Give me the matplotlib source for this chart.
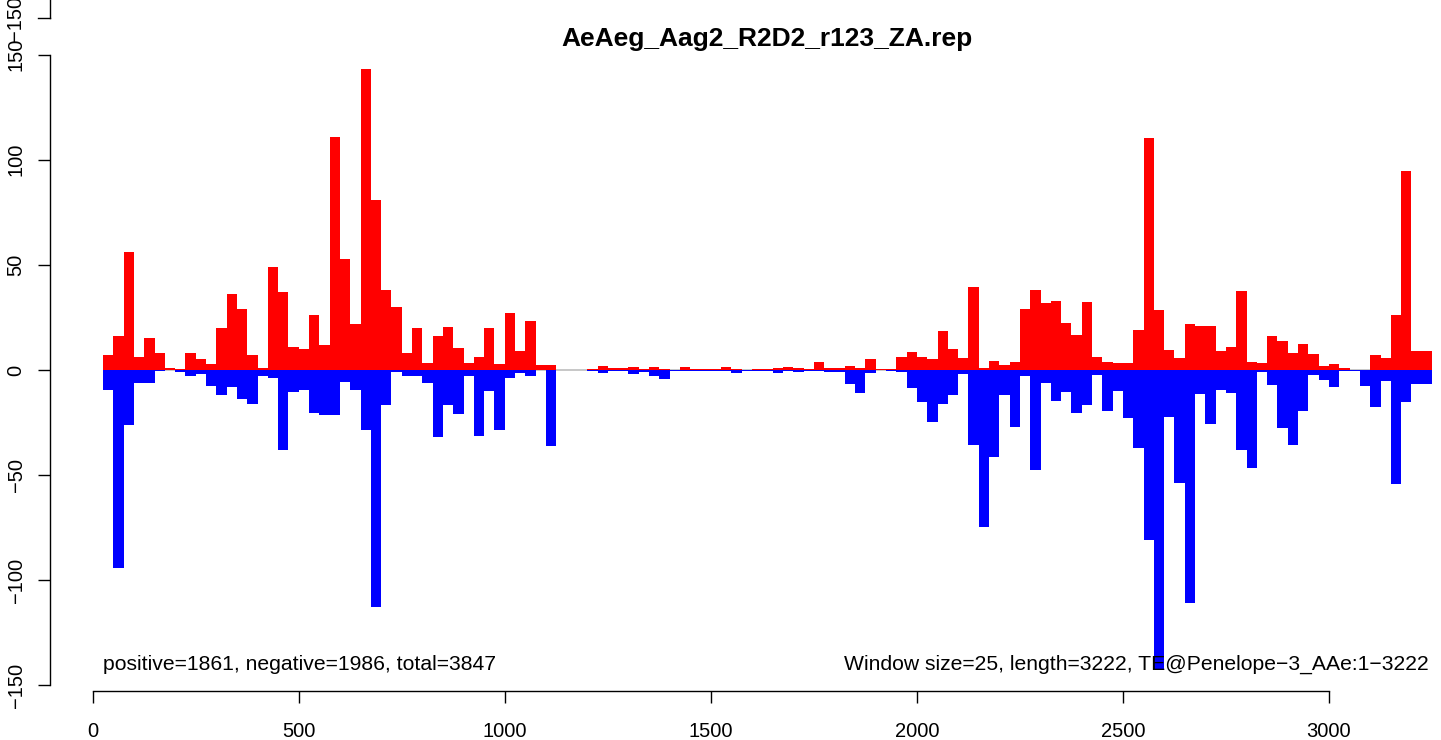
import matplotlib
matplotlib.use("Agg")
import matplotlib.pyplot as plt
from matplotlib.lines import Line2D
import numpy as np

plt.rcParams['font.family'] = ['Liberation Sans', 'DejaVu Sans']

window = 25
length = 3222
title = "AeAeg_Aag2_R2D2_r123_ZA.rep"
left_note = "positive=1861, negative=1986, total=3847"
right_note = "Window size=25, length=3222, TE@Penelope\u22123_AAe:1\u22123222"

positive = [7, 16, 56, 6, 15, 8, 1, 0.5, 8, 5, 3, 20, 36, 29, 7, 1, 49, 37, 11, 10,
            26, 12, 111, 53, 22, 143, 81, 38, 30, 8, 20, 3.5, 16, 20.5, 10.5, 3.5, 6, 20, 3, 27,
            9, 23.5, 2.5, 2.5, 0, 0, 0, 0.5, 2, 1, 1, 1.5, 0.5, 1.5, 0.5, 0, 1.5, 0.5, 0.5, 0.5,
            1.5, 0.5, 0, 0.5, 0.5, 1, 1.5, 1, 0.3, 4, 1, 1, 2, 1, 5, 0.3, 0.3, 6, 8.5, 6,
            5, 18.5, 10, 5.5, 39.5, 1, 4.5, 2.5, 4, 29, 38, 32, 33, 22.5, 16.5, 32.5, 6, 4, 3.5, 3.5,
            19, 110.5, 28.5, 9.5, 5.5, 22, 21, 21, 9, 11, 37.5, 4, 3.5, 16, 14, 8, 12.5, 7.5, 2, 3,
            1, 0, 0, 7, 5.5, 26, 94.5, 9, 9]

negative = [9.5, 94, 26, 6, 6, 0.5, 0, 1, 3, 2, 7.5, 12, 8, 14, 16, 3, 4, 38, 10.5, 9.5,
            20.5, 21.5, 21.5, 5.7, 9.5, 28.5, 112.5, 16.7, 1, 3, 3, 6, 32, 16.5, 21, 2.7, 31.5, 10, 28.5, 3.7,
            1.3, 2.7, 0, 36, 0, 0, 0, 0.3, 1.4, 0.3, 0.3, 2, 0.8, 3, 4.3, 0.3, 0.3, 0.3, 0.3, 0.3,
            0.3, 1.4, 0.3, 0.3, 0.3, 1.4, 0.3, 1, 0.3, 0.3, 1, 1, 6.7, 11, 1.4, 0, 0.5, 1, 8.6, 15.3,
            24.8, 16.2, 12, 2, 35.8, 74.5, 41.6, 11.8, 27, 2.7, 47.6, 6.2, 14.6, 10.5, 20.5, 16.6, 2.4, 19.6, 10, 22.8,
            37.3, 81, 142.5, 22.5, 53.5, 110.7, 11.5, 25.6, 9.6, 11, 38, 46.8, 1, 7, 27.5, 35.5, 19.4, 2.4, 4.8, 8.1,
            0.5, 0.5, 7.6, 17.7, 5.3, 54, 15.3, 6.7, 6.7]

x_ticks = [0, 500, 1000, 1500, 2000, 2500, 3000]
y_ticks = [-150, -100, -50, 0, 50, 100, 150]

W, H = 1441, 740
fig = plt.figure(figsize=(W / 100, H / 100), dpi=100)

# pixel geometry of the plot frame
px0, ppu_x = 92.7, 0.4121      # x=0 pixel, pixels per unit
py0, ppu_y = 370.0, 2.103      # y=0 pixel (from top), pixels per unit
ax_left_px, ax_bottom_px = 50.0, 691.0
xl = ((ax_left_px - px0) / ppu_x, (W - px0) / ppu_x)
yl = ((py0 - ax_bottom_px) / ppu_y, py0 / ppu_y)
ax = fig.add_axes([ax_left_px / W, (H - ax_bottom_px) / H,
                   (W - ax_left_px) / W, ax_bottom_px / H])
ax.set_xlim(*xl)
ax.set_ylim(*yl)

n = len(positive)
lefts = window * np.arange(1, n + 1)
pos = np.array(positive, dtype=float)
neg = -np.array(negative, dtype=float)

ax.hlines(0, lefts[0], lefts[-1] + window, color='#bebebe', lw=1.2, zorder=1)
ax.bar(lefts, pos, width=window, align='edge', color='#ff0000', linewidth=0,
       antialiased=False, zorder=2)
ax.bar(lefts, neg, width=window, align='edge', color='#0000ff', linewidth=0,
       antialiased=False, zorder=2)

for s in ['top', 'right']:
    ax.spines[s].set_visible(False)
ax.spines['left'].set_bounds(-150, 150)
ax.spines['bottom'].set_bounds(0, 3000)
for s in ['left', 'bottom']:
    ax.spines[s].set_linewidth(1.0)
    ax.spines[s].set_color('black')

ax.set_xticks(x_ticks)
ax.set_xticklabels([str(v) for v in x_ticks])
ax.set_yticks(y_ticks)
ax.set_yticklabels([str(v).replace('-', '\u2212') for v in y_ticks], rotation=90, va='center')
ax.tick_params(axis='both', direction='out', length=8.6, width=1.0, labelsize=14.5, colors='black')
ax.tick_params(axis='x', pad=14)
ax.tick_params(axis='y', pad=9)

ax.text(25, (py0 - 664) / ppu_y, left_note, ha='left', va='center', fontsize=15.2)
ax.text((1429 - px0) / ppu_x, (py0 - 664) / ppu_y, right_note, ha='right', va='center', fontsize=15.2)

fig.text(767 / W, 1 - 39 / H, title, ha='center', va='center', fontsize=19, fontweight='bold')

# remnant of the panel above (cut at the top edge, as in the reference)
fig.add_artist(Line2D([50 / W, 50 / W], [1.0, 1 - 18 / H], color='black', lw=1.0))
fig.add_artist(Line2D([38 / W, 50 / W], [1 - 18 / H, 1 - 18 / H], color='black', lw=1.0))
fig.text(15 / W, 1 - 18 / H, '\u2212150', rotation=90, ha='center', va='center', fontsize=14.5)

fig.savefig('out.png', dpi=100)
